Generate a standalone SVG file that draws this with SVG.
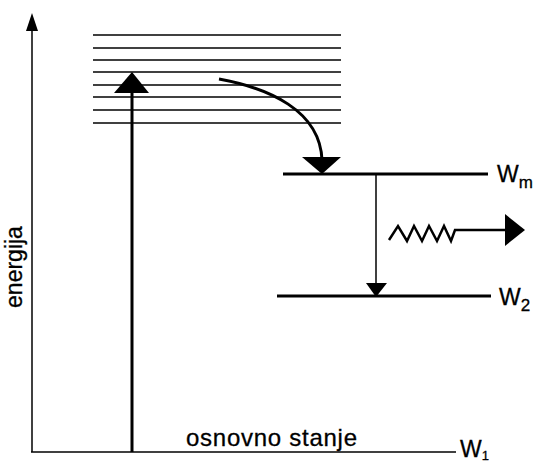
<svg xmlns="http://www.w3.org/2000/svg" width="542" height="464" viewBox="0 0 542 464">
<style>
.ln{stroke:#000;fill:none}
.t{font-family:"Liberation Sans",Arial,sans-serif;fill:#000;stroke:#000;stroke-width:0.3}
</style>
<rect width="542" height="464" fill="#fff"/>
<g id="axes">
<line class="ln" x1="32" y1="28" x2="32" y2="452" stroke-width="1.5"/>
<polygon points="32,13 26,31 38,31" fill="#000"/>
<line class="ln" x1="31" y1="452" x2="456" y2="452" stroke-width="1.5"/>
<text class="t" font-size="23" transform="translate(22,267) rotate(-90)" text-anchor="middle">energija</text>
</g>
<g id="band">
<line class="ln" x1="93" y1="35" x2="341" y2="35" stroke-width="1.5"/>
<line class="ln" x1="93" y1="48" x2="341" y2="48" stroke-width="1.5"/>
<line class="ln" x1="93" y1="60" x2="341" y2="60" stroke-width="1.5"/>
<line class="ln" x1="93" y1="72" x2="341" y2="72" stroke-width="1.5"/>
<line class="ln" x1="93" y1="85" x2="341" y2="85" stroke-width="1.5"/>
<line class="ln" x1="93" y1="97" x2="341" y2="97" stroke-width="1.5"/>
<line class="ln" x1="93" y1="110" x2="341" y2="110" stroke-width="1.5"/>
<line class="ln" x1="93" y1="123" x2="341" y2="123" stroke-width="1.5"/>
</g>
<g id="level-wm">
<line class="ln" x1="283" y1="174" x2="488" y2="174" stroke-width="3"/>
<text class="t" font-size="23" x="497" y="182">W<tspan font-size="17" dy="6">m</tspan></text>
</g>
<g id="level-w2">
<line class="ln" x1="277" y1="296" x2="491" y2="296" stroke-width="3"/>
<text class="t" font-size="23" x="499" y="305">W<tspan font-size="17" dy="6">2</tspan></text>
</g>
<g id="level-w1">
<text class="t" font-size="24" x="186" y="446" textLength="171">osnovno stanje</text>
<text class="t" font-size="23" x="460" y="457">W<tspan font-size="13" dy="3">1</tspan></text>
</g>
<g id="connectors">
<line class="ln" x1="132" y1="452" x2="132" y2="88" stroke-width="3"/>
<polygon points="132,72 114,93 149,93" fill="#000"/>
<path class="ln" d="M219,79 C268,88 320,110 322,160" stroke-width="3"/>
<polygon points="322,174 302,157 341,157" fill="#000"/>
<line class="ln" x1="376" y1="174" x2="376" y2="285" stroke-width="1.5"/>
<polygon points="376,297 366,283 387,283" fill="#000"/>
<polyline class="ln" points="389,240 398,226 407,241 414,226 422,241 429,226 437,241 444,226 451,241 455,230 505,230" stroke-width="2.5" stroke-linejoin="miter"/>
<polygon points="525,230 505,214 505,246" fill="#000"/>
</g>
</svg>
